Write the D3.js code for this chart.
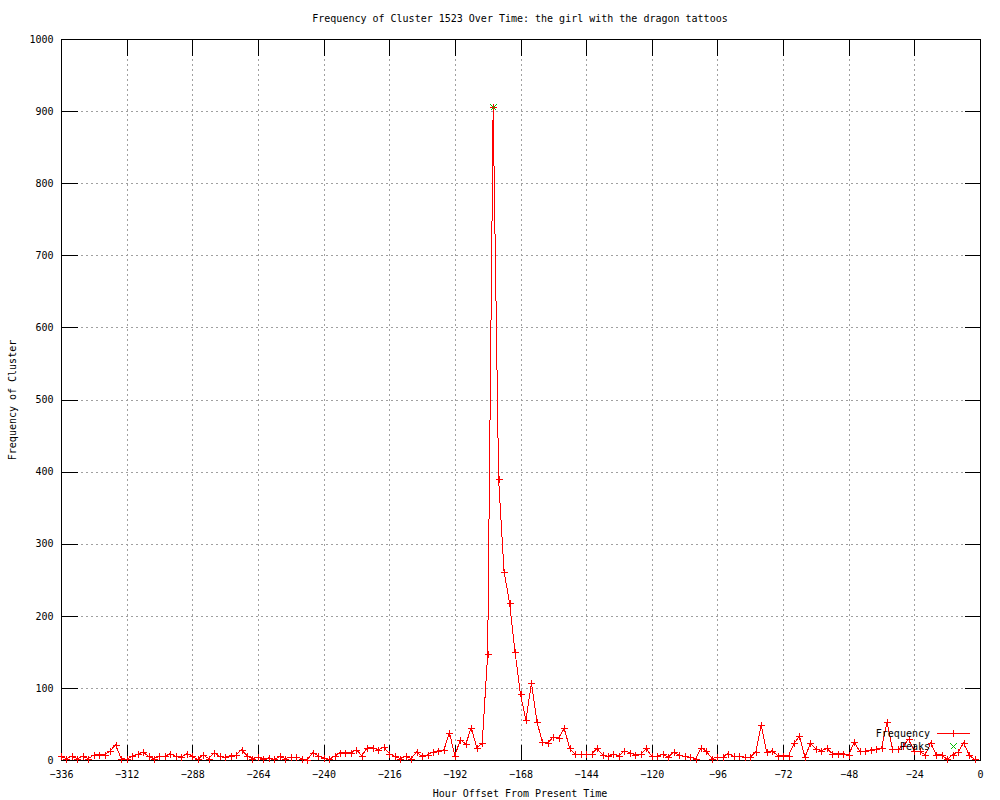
<!DOCTYPE html>
<html>
<head>
<meta charset="utf-8">
<script src="https://cdn.jsdelivr.net/npm/d3@7"></script>
<style>
  html, body { margin: 0; padding: 0; background: #fff; }
  svg { display: block; }
  text { font-family: "DejaVu Sans Mono", monospace; font-size: 10px; fill: #000; }
</style>
</head>
<body>
<svg id="chart" width="1000" height="800"></svg>
<script>
// ---- Data ----
const hours = [
  -336,-334,-332,-330,-328,-326,-324,-322,-320,-318,-316,-314,-312,-310,-308,-306,-304,-302,-300,-298,
  -296,-294,-292,-290,-288,-286,-284,-282,-280,-278,-276,-274,-272,-270,-268,-266,-264,-262,-260,-258,
  -256,-254,-252,-250,-248,-246,-244,-242,-240,-238,-236,-234,-232,-230,-228,-226,-224,-222,-220,-218,
  -216,-214,-212,-210,-208,-206,-204,-202,-200,-198,-196,-194,-192,-190,-188,-186,-184,-182,-180,-178,
  -176,-174,-172,-170,-168,-166,-164,-162,-160,-158,-156,-154,-152,-150,-148,-146,-144,-142,-140,-138,
  -136,-134,-132,-130,-128,-126,-124,-122,-120,-118,-116,-114,-112,-110,-108,-106,-104,-102,-100,-98,
  -96,-94,-92,-90,-88,-86,-84,-82,-80,-78,-76,-74,-72,-70,-68,-66,-64,-62,-60,-58,
  -56,-54,-52,-50,-48,-46,-44,-42,-40,-38,-36,-34,-32,-30,-28,-26,-24,-22,-20,-18,
  -16,-14,-12,-10,-8,-6,-4,-2
];
const frequency = [
  5,2,5,2,5,2,7,7,7,13,21,2,1,5,8,11,5,2,5,5,
  9,5,4,9,5,1,7,2,10,5,4,6,7,14,6,2,4,1,3,1,
  5,2,4,4,2,0,10,6,3,1,5,10,10,10,14,6,17,17,14,18,
  9,5,2,5,2,11,5,7,11,13,14,38,6,28,22,45,17,23,147,906,
  390,261,218,150,91,55,107,53,25,24,32,31,44,16,8,8,8,8,16,7,
  5,8,6,13,10,7,8,16,5,5,8,4,11,7,5,4,2,17,12,2,
  4,4,9,5,5,4,4,11,49,11,13,6,6,6,23,33,4,23,15,13,
  16,9,9,9,7,25,12,12,14,15,16,53,15,15,20,29,12,12,7,24,
  7,7,1,7,11,24,7,1
];
const peakHours = [-178];
const peakValues = [906];

const xTicks = [-336,-312,-288,-264,-240,-216,-192,-168,-144,-120,-96,-72,-48,-24,0];
const yTicks = [0,100,200,300,400,500,600,700,800,900,1000];

const titleText = "Frequency of Cluster 1523 Over Time: the girl with the dragon tattoos";
const xLabel = "Hour Offset From Present Time";
const yLabel = "Frequency of Cluster";
const seriesNames = ["Frequency", "Peaks"];

// ---- Layout ----
const L = 61, R = 980, T = 39, B = 760;
const svg = d3.select("#chart");
const x = d3.scaleLinear().domain([-336, 0]).range([L, R]);
const y = d3.scaleLinear().domain([0, 1000]).range([B, T]);

const RED = "#ff0000", GREEN = "#00c000", GRID = "#a0a0a0";

// Grid
const grid = svg.append("g").attr("shape-rendering", "crispEdges");
grid.selectAll("line.gx").data(xTicks.filter(d => d !== -336 && d !== 0)).join("line")
  .attr("x1", d => Math.round(x(d)) + 0.5).attr("x2", d => Math.round(x(d)) + 0.5)
  .attr("y1", T).attr("y2", B)
  .attr("stroke", GRID).attr("stroke-dasharray", "2,3");
grid.selectAll("line.gy").data(yTicks.filter(d => d !== 0 && d !== 1000)).join("line")
  .attr("y1", d => Math.round(y(d)) + 0.5).attr("y2", d => Math.round(y(d)) + 0.5)
  .attr("x1", L).attr("x2", R)
  .attr("stroke", GRID).attr("stroke-dasharray", "2,3");

// Axes (ticks inward, mirrored)
const TICK = 16;
const gB = svg.append("g").attr("transform", `translate(0,${B + 0.5})`)
  .call(d3.axisBottom(x).tickValues(xTicks).tickSizeInner(-TICK).tickSizeOuter(0).tickPadding(10).tickFormat(d3.format("d")));
const gT = svg.append("g").attr("transform", `translate(0,${T + 0.5})`)
  .call(d3.axisTop(x).tickValues(xTicks).tickSizeInner(-TICK).tickSizeOuter(0).tickFormat(""));
const gL = svg.append("g").attr("transform", `translate(${L + 0.5},0)`)
  .call(d3.axisLeft(y).tickValues(yTicks).tickSizeInner(-TICK).tickSizeOuter(0).tickPadding(8).tickFormat(d3.format("d")));
const gR = svg.append("g").attr("transform", `translate(${R + 0.5},0)`)
  .call(d3.axisRight(y).tickValues(yTicks).tickSizeInner(-TICK).tickSizeOuter(0).tickFormat(""));
[gB, gT, gL, gR].forEach(g => {
  g.attr("shape-rendering", "crispEdges");
  g.select(".domain").remove();
  g.selectAll(".tick line").attr("stroke", "#000");
  g.selectAll("text").attr("font-family", null).attr("font-size", null).style("fill", "#000");
});

// Border
svg.append("rect").attr("x", L + 0.5).attr("y", T + 0.5)
  .attr("width", R - L).attr("height", B - T)
  .attr("fill", "none").attr("stroke", "#000").attr("shape-rendering", "crispEdges");

// Titles
svg.append("text").attr("x", 520).attr("y", 22).attr("text-anchor", "middle").text(titleText);
svg.append("text").attr("x", 520).attr("y", 797).attr("text-anchor", "middle").text(xLabel);
svg.append("text").attr("transform", "translate(16,400) rotate(-90)").attr("text-anchor", "middle").text(yLabel);

// Frequency series
const pts = hours.map((h, i) => ({ h, v: frequency[i] }));
const line = d3.line().x(d => x(d.h)).y(d => y(d.v));
svg.append("path").datum(pts).attr("d", line)
  .attr("fill", "none").attr("stroke", RED).attr("stroke-width", 1)
  .attr("shape-rendering", "crispEdges");
const plus = "M-3.5,0H3.5M0,-3.5V3.5";
const cross = "M-3,-3L3,3M-3,3L3,-3";
svg.append("g").selectAll("path").data(pts).join("path")
  .attr("transform", d => `translate(${Math.round(x(d.h)) + 0.5},${Math.round(y(d.v)) + 0.5})`)
  .attr("d", plus).attr("stroke", RED).attr("fill", "none").attr("shape-rendering", "crispEdges");

// Peaks
svg.append("g").selectAll("path").data(peakHours.map((h, i) => ({ h, v: peakValues[i] }))).join("path")
  .attr("transform", d => `translate(${Math.round(x(d.h)) + 0.5},${Math.round(y(d.v)) + 0.5})`)
  .attr("d", cross).attr("stroke", GREEN).attr("fill", "none").attr("shape-rendering", "crispEdges");

// Legend
const key = svg.append("g");
key.append("text").attr("x", 930).attr("y", 737).attr("text-anchor", "end").text(seriesNames[0]);
key.append("line").attr("x1", 937).attr("x2", 970).attr("y1", 733.5).attr("y2", 733.5)
  .attr("stroke", RED).attr("shape-rendering", "crispEdges");
key.append("path").attr("transform", "translate(953.5,733.5)").attr("d", plus)
  .attr("stroke", RED).attr("fill", "none").attr("shape-rendering", "crispEdges");
key.append("text").attr("x", 930).attr("y", 750).attr("text-anchor", "end").text(seriesNames[1]);
key.append("path").attr("transform", "translate(953.5,746.5)").attr("d", cross)
  .attr("stroke", GREEN).attr("fill", "none").attr("shape-rendering", "crispEdges");
</script>
</body>
</html>
